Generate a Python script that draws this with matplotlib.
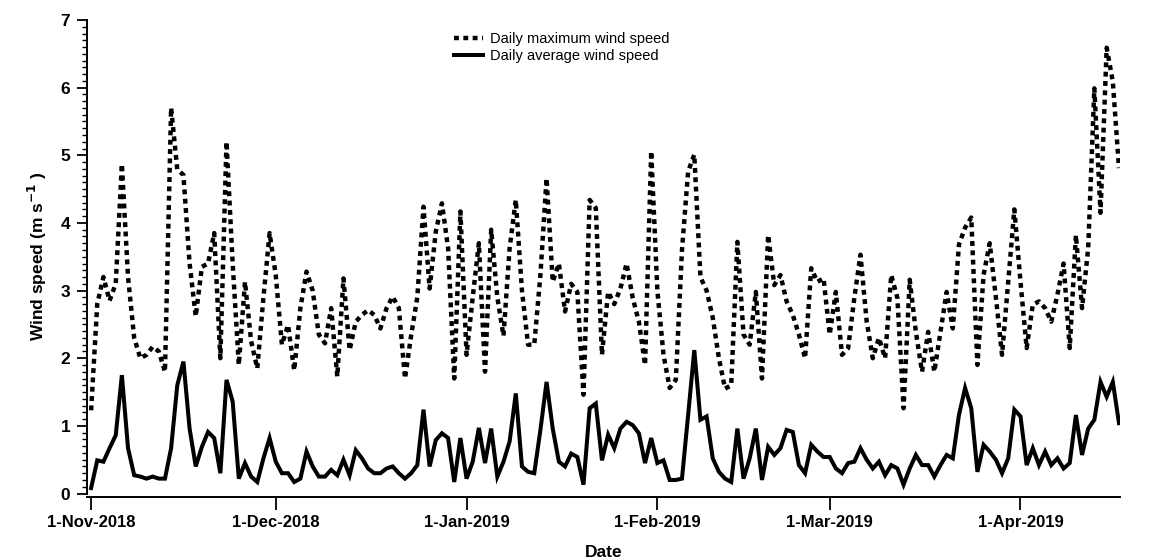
import numpy as np
import pandas as pd
import matplotlib
matplotlib.use("Agg")
import matplotlib.pyplot as plt
from matplotlib.ticker import MultipleLocator

plt.rcParams['font.family'] = ['Liberation Sans', 'DejaVu Sans']

start_date = "2018-11-01"

daily_max = [
    1.23, 2.8, 3.2, 2.85, 3.1, 4.87, 3.2, 2.3, 2.0, 2.05,
    2.17, 2.1, 1.8, 5.7, 4.79, 4.71, 3.4, 2.62, 3.35, 3.4,
    3.85, 2.0, 5.2, 3.4, 1.9, 3.13, 2.25, 1.85, 2.9, 3.85,
    3.23, 2.2, 2.49, 1.82, 2.74, 3.28, 3.0, 2.35, 2.22, 2.74,
    1.73, 3.18, 2.12, 2.54, 2.64, 2.71, 2.64, 2.44, 2.74, 2.91,
    2.74, 1.7, 2.34, 2.9, 4.24, 3.03, 3.87, 4.29, 3.63, 1.7,
    4.17, 2.05, 2.9, 3.7, 1.8, 3.9, 2.9, 2.33, 3.63, 4.34,
    3.0, 2.2, 2.2, 3.23, 4.66, 3.13, 3.4, 2.69, 3.1, 2.98,
    1.46, 4.34, 4.22, 2.05, 2.98, 2.8, 3.03, 3.4, 2.89, 2.54,
    1.9, 5.06, 3.0, 2.05, 1.56, 1.68, 3.6, 4.76, 5.01, 3.2,
    3.0, 2.6, 2.0, 1.55, 1.6, 3.72, 2.35, 2.2, 2.98, 1.7,
    3.82, 3.08, 3.23, 2.84, 2.64, 2.35, 2.0, 3.33, 3.13, 3.18,
    2.35, 2.98, 2.05, 2.15, 2.89, 3.53, 2.55, 2.0, 2.3, 2.0,
    3.23, 2.89, 1.26, 3.16, 2.39, 1.8, 2.39, 1.8, 2.39, 2.98,
    2.44, 3.68, 3.93, 4.08, 1.9, 3.23, 3.7, 2.9, 2.05, 3.13,
    4.2, 3.13, 2.15, 2.79, 2.84, 2.74, 2.54, 2.94, 3.4, 2.15,
    3.82, 2.74, 3.63, 5.99, 4.15, 6.59, 6.09, 4.81,
]

daily_avg = [
    0.08, 0.49, 0.47, 0.67, 0.86, 1.75, 0.67, 0.27, 0.25, 0.22,
    0.25, 0.22, 0.22, 0.67, 1.6, 1.95, 0.96, 0.4, 0.69, 0.91,
    0.82, 0.3, 1.68, 1.36, 0.22, 0.45, 0.25, 0.17, 0.52, 0.82,
    0.47, 0.3, 0.3, 0.17, 0.22, 0.62, 0.4, 0.25, 0.25, 0.35,
    0.27, 0.5, 0.27, 0.64, 0.52, 0.37, 0.3, 0.3, 0.37, 0.4,
    0.3, 0.22, 0.3, 0.42, 1.24, 0.4, 0.79, 0.89, 0.82, 0.17,
    0.82, 0.22, 0.47, 0.97, 0.45, 0.96, 0.25, 0.47, 0.77, 1.48,
    0.4, 0.32, 0.3, 0.94, 1.65, 0.96, 0.47, 0.4, 0.59, 0.54,
    0.13, 1.26, 1.33, 0.49, 0.87, 0.67, 0.96, 1.06, 1.01, 0.89,
    0.45, 0.82, 0.45, 0.49, 0.2, 0.2, 0.22, 1.16, 2.12, 1.09,
    1.14, 0.52, 0.32, 0.22, 0.17, 0.96, 0.22, 0.52, 0.96, 0.2,
    0.69, 0.57, 0.67, 0.94, 0.91, 0.42, 0.3, 0.72, 0.62, 0.54,
    0.54, 0.37, 0.3, 0.45, 0.47, 0.67, 0.5, 0.37, 0.47, 0.27,
    0.42, 0.37, 0.13, 0.37, 0.57, 0.42, 0.42, 0.25, 0.42, 0.57,
    0.52, 1.16, 1.56, 1.26, 0.32, 0.72, 0.62, 0.5, 0.3, 0.52,
    1.24, 1.14, 0.42, 0.67, 0.42, 0.62, 0.42, 0.52, 0.37, 0.45,
    1.16, 0.57, 0.96, 1.09, 1.65, 1.43, 1.65, 1.04,
]

tick_dates = ["2018-11-01", "2018-12-01", "2019-01-01",
              "2019-02-01", "2019-03-01", "2019-04-01"]
tick_labels = ["1-Nov-2018", "1-Dec-2018", "1-Jan-2019",
               "1-Feb-2019", "1-Mar-2019", "1-Apr-2019"]

dates = pd.date_range(start_date, periods=len(daily_max), freq="D")

fig = plt.figure(figsize=(11.53, 5.6), dpi=100)
ax = fig.add_axes([87 / 1153, (560 - 493.5) / 560,
                   (1120 - 87) / 1153, 473.5 / 560])

ax.plot(dates, daily_max, color="black", lw=3.2,
        linestyle=(0, (1.1, 1.0)), dash_capstyle="butt",
        solid_joinstyle="miter", label="Daily maximum wind speed")
ax.plot(dates, daily_avg, color="black", lw=2.9,
        solid_joinstyle="miter", label="Daily average wind speed")

ax.set_ylim(0, 7)
ax.set_xlim(pd.Timestamp(start_date) - pd.Timedelta(hours=16),
            dates[-1] + pd.Timedelta(hours=4))

ax.spines["top"].set_visible(False)
ax.spines["right"].set_visible(False)
ax.spines["bottom"].set_position(("outward", 2.5))
for sp in ("left", "bottom"):
    ax.spines[sp].set_linewidth(1.4)

ax.yaxis.set_major_locator(MultipleLocator(1))
ax.yaxis.set_minor_locator(MultipleLocator(0.1))
ax.tick_params(axis="y", which="major", direction="out", length=7,
               width=1.3, labelsize=12.5, pad=5)
ax.tick_params(axis="y", which="minor", direction="out", length=3.5,
               width=1.0)
for lab in ax.get_yticklabels():
    lab.set_fontweight("bold")

ax.set_xticks(pd.to_datetime(tick_dates))
ax.set_xticklabels(tick_labels, fontweight="bold", fontsize=12)
ax.xaxis.set_minor_locator(plt.NullLocator())
ax.tick_params(axis="x", which="major", direction="out", length=9,
               width=1.3, pad=4)

ax.set_ylabel(r"Wind speed (m s$^{\mathbf{-1}}$ )", fontsize=12.5,
              fontweight="bold", labelpad=8)
ax.set_xlabel("Date", fontsize=12.5, fontweight="bold", labelpad=11)

leg = ax.legend(loc="upper left", bbox_to_anchor=(355 / 1033, 1.0),
                frameon=False, fontsize=10.5, handlelength=2.0,
                handletextpad=0.5, labelspacing=0.25, borderpad=0.3)

fig.savefig("out.png", dpi=100)
